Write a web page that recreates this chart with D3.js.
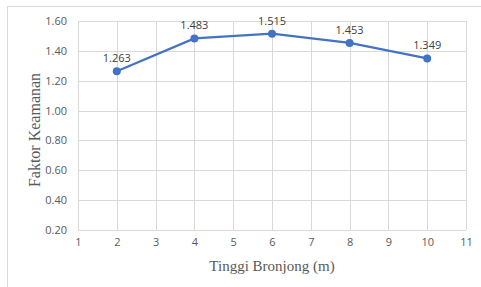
<!DOCTYPE html>
<html>
<head>
<meta charset="utf-8">
<script src="https://cdn.jsdelivr.net/npm/d3@7"></script>
<style>
  body { margin: 0; background: #fff; }
  .tick text { font-family: "Open Sans", Calibri, sans-serif; font-size: 11px; fill: #595959; }
</style>
</head>
<body>
<div id="chart"></div>
<script>
// chart data
var tinggi = [2, 4, 6, 8, 10];
var faktor = [1.263, 1.483, 1.515, 1.453, 1.349];
var xTicks = [1, 2, 3, 4, 5, 6, 7, 8, 9, 10, 11];
var yTicks = [0.2, 0.4, 0.6, 0.8, 1.0, 1.2, 1.4, 1.6];

var width = 481;
var height = 287;

var svg = d3.select("#chart")
    .append("svg")
    .attr("width", width)
    .attr("height", height);

// outer chart border (only left/top are in frame)
svg.append("rect")
    .attr("x", 7.5)
    .attr("y", 6.5)
    .attr("width", 490)
    .attr("height", 300)
    .attr("fill", "none")
    .attr("stroke", "#d9d9d9");

var xScale = d3.scaleLinear().domain([1, 11]).range([78, 466]);
var yScale = d3.scaleLinear().domain([0.2, 1.6]).range([230, 21]);

// gridlines
svg.append("g")
    .selectAll("line")
    .data(yTicks)
    .enter()
    .append("line")
    .attr("x1", xScale(1))
    .attr("x2", xScale(11))
    .attr("y1", function(d) { return Math.round(yScale(d)) + 0.5; })
    .attr("y2", function(d) { return Math.round(yScale(d)) + 0.5; })
    .attr("stroke", "#d9d9d9");

svg.append("g")
    .selectAll("line")
    .data(xTicks)
    .enter()
    .append("line")
    .attr("x1", function(d) { return Math.round(xScale(d)) + 0.5; })
    .attr("x2", function(d) { return Math.round(xScale(d)) + 0.5; })
    .attr("y1", yScale(1.6))
    .attr("y2", yScale(0.2))
    .attr("stroke", "#d9d9d9");

// axes (labels only)
var xAxis = d3.axisBottom(xScale).tickValues(xTicks).tickSize(0).tickPadding(8).tickFormat(d3.format("d"));
var yAxis = d3.axisLeft(yScale).tickValues(yTicks).tickSize(0).tickPadding(11).tickFormat(d3.format(".2f"));

svg.append("g")
    .attr("transform", "translate(0," + yScale(0.2) + ")")
    .call(xAxis)
    .call(function(g) { g.select(".domain").remove(); });

svg.append("g")
    .attr("transform", "translate(" + xScale(1) + ",0)")
    .call(yAxis)
    .call(function(g) { g.select(".domain").remove(); });

// line
var points = tinggi.map(function(t, i) { return { x: t, y: faktor[i] }; });

var line = d3.line()
    .x(function(d) { return xScale(d.x); })
    .y(function(d) { return yScale(d.y); });

svg.append("path")
    .datum(points)
    .attr("d", line)
    .attr("fill", "none")
    .attr("stroke", "#4472c4")
    .attr("stroke-width", 2.25);

svg.selectAll(".dot")
    .data(points)
    .enter()
    .append("circle")
    .attr("cx", function(d) { return xScale(d.x); })
    .attr("cy", function(d) { return yScale(d.y); })
    .attr("r", 4)
    .attr("fill", "#4472c4");

// data labels
svg.selectAll(".lbl")
    .data(points)
    .enter()
    .append("text")
    .attr("x", function(d) { return xScale(d.x); })
    .attr("y", function(d) { return yScale(d.y) - 9; })
    .attr("text-anchor", "middle")
    .attr("font-family", "'Open Sans', Calibri, sans-serif")
    .attr("font-size", 11)
    .attr("fill", "#404040")
    .text(function(d) { return d3.format(".3f")(d.y); });

// axis titles
svg.append("text")
    .attr("x", 272)
    .attr("y", 271)
    .attr("text-anchor", "middle")
    .attr("font-family", "'Liberation Serif', 'Times New Roman', serif")
    .attr("font-size", 15)
    .attr("fill", "#595959")
    .text("Tinggi Bronjong (m)");

svg.append("text")
    .attr("transform", "translate(40,130)rotate(-90)")
    .attr("text-anchor", "middle")
    .attr("font-family", "'Liberation Serif', 'Times New Roman', serif")
    .attr("font-size", 16)
    .attr("fill", "#595959")
    .text("Faktor Keamanan");
</script>
</body>
</html>
